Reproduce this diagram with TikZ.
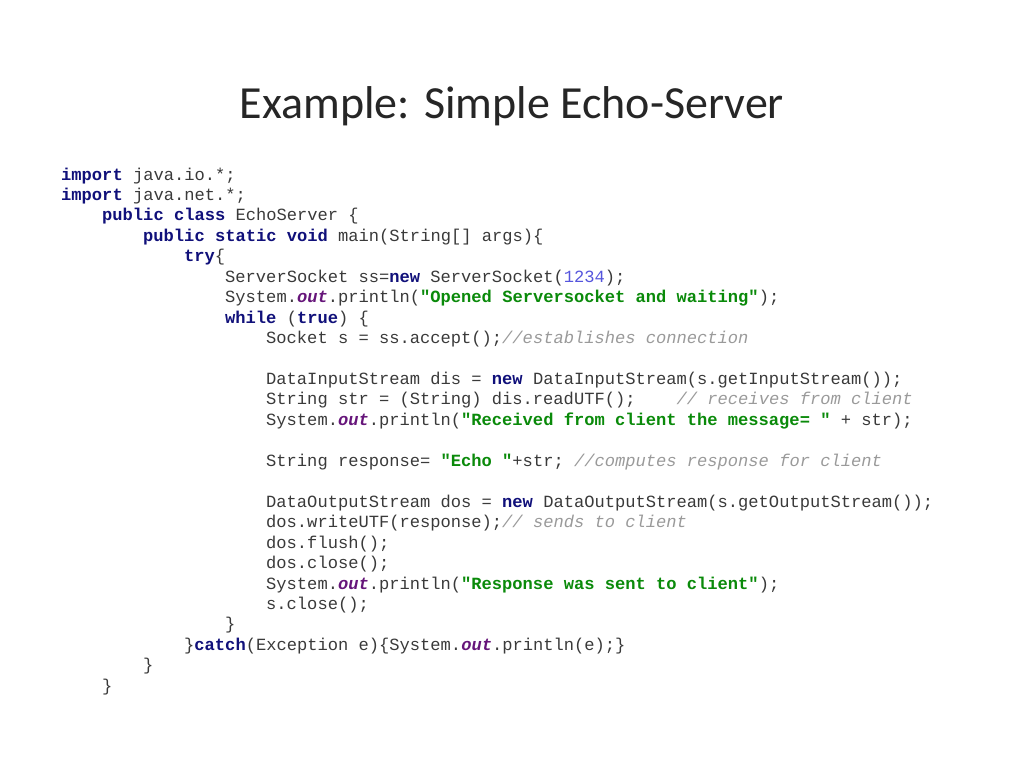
\documentclass[tikz,border=0pt]{standalone}
\usepackage{fontspec}
\setmainfont{Carlito}
\newfontfamily\codef{Liberation Mono}[WordSpace={1,0,0}]
\definecolor{txt}{HTML}{3A3A3A}
\definecolor{kwc}{HTML}{10107A}
\definecolor{stc}{HTML}{0A8A0A}
\definecolor{ouc}{HTML}{66157A}
\definecolor{cmc}{HTML}{9A9A9A}
\definecolor{nmc}{HTML}{5555DD}
\newcommand{\kw}[1]{\textcolor{kwc}{\bfseries #1}}
\newcommand{\st}[1]{\textcolor{stc}{\bfseries #1}}
\newcommand{\ou}[1]{\textcolor{ouc}{\bfseries\itshape #1}}
\newcommand{\cm}[1]{\textcolor{cmc}{\itshape #1}}
\newcommand{\nm}[1]{\textcolor{nmc}{#1}}
\tikzset{codeline/.style={anchor=base west,inner sep=0pt,text=txt,font=\codef\fontsize{17.1}{20}\selectfont}}
\begin{document}
\begin{tikzpicture}[x=1pt,y=-1pt]
\useasboundingbox[fill=white] (0,0) rectangle (1024,768);
\node[anchor=base,inner sep=0pt,text=black!85,font=\fontsize{46}{50}\selectfont] (title) at (512,118) {Example: Simple Echo-Server};
\def\L#1#2#3{\node[codeline] (l#2) at ({61+41*#1},{180+20.45*#2}) {#3};}
\L{0}{0}{\kw{import} java.io.*;}
\L{0}{1}{\kw{import} java.net.*;}
\L{1}{2}{\kw{public class} EchoServer \{}
\L{2}{3}{\kw{public static void} main(String[] args)\{}
\L{3}{4}{\kw{try}\{}
\L{4}{5}{ServerSocket ss=\kw{new} ServerSocket(\nm{1234});}
\L{4}{6}{System.\ou{out}.println(\st{"Opened Serversocket and waiting"});}
\L{4}{7}{\kw{while} (\kw{true}) \{}
\L{5}{8}{Socket s = ss.accept();\cm{//establishes connection}}
\L{5}{10}{DataInputStream dis = \kw{new} DataInputStream(s.getInputStream());}
\L{5}{11}{String str = (String) dis.readUTF();~~~~\cm{// receives from client}}
\L{5}{12}{System.\ou{out}.println(\st{"Received from client the message= "} + str);}
\L{5}{14}{String response= \st{"Echo "}+str; \cm{//computes response for client}}
\L{5}{16}{DataOutputStream dos = \kw{new} DataOutputStream(s.getOutputStream());}
\L{5}{17}{dos.writeUTF(response);\cm{// sends to client}}
\L{5}{18}{dos.flush();}
\L{5}{19}{dos.close();}
\L{5}{20}{System.\ou{out}.println(\st{"Response was sent to client"});}
\L{5}{21}{s.close();}
\L{4}{22}{\}}
\L{3}{23}{\}\kw{catch}(Exception e)\{System.\ou{out}.println(e);\}}
\L{2}{24}{\}}
\L{1}{25}{\}}
\end{tikzpicture}
\end{document}
